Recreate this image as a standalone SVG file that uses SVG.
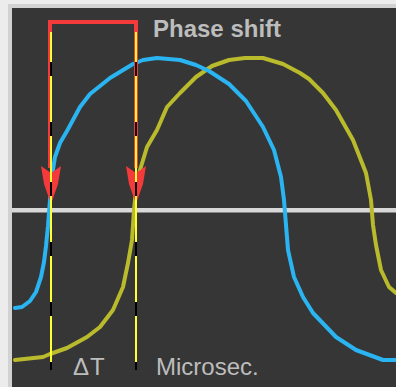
<svg xmlns="http://www.w3.org/2000/svg" width="396" height="387" viewBox="0 0 396 387">
<style>
.curve{fill:none;stroke-width:4;stroke-linejoin:round;stroke-linecap:round}
.blue{stroke:#2bb4f2}
.olive{stroke:#b9bb2c}
.red{stroke:#f43a3a;stroke-width:4;fill:none}
.arrow{fill:#f43a3a}
.base{stroke:#000;stroke-width:2}
.dash{stroke:#ffff33;stroke-width:2;stroke-dasharray:46 14;stroke-dashoffset:16}
.lbl{font-family:"Liberation Sans",Arial,sans-serif;fill:#bdbdbd}
</style>
<rect x="0" y="0" width="396" height="387" fill="#ececec"/>
<rect x="8" y="4" width="388" height="383" fill="#d2d2d2"/>
<rect x="12" y="8" width="384" height="379" fill="#363636"/>
<rect x="12" y="208" width="384" height="4.5" fill="#d8d8d8"/>
<g id="curves">
<polyline class="curve olive" points="15,360 43,357 50,354 67,348 87,337 100,327 113,310 123,287 128,263 132,240 134,210 136,190 140,170 147,147 157,130 167,107 180,93 196,77 212,66 229,60 245,58 263,58 283,64 300,73 309,79 323,93 336,110 353,140 366,173 371,200 373,225 376,245 381,270 389,287 396,293"/>
<polyline class="curve blue" points="15,308 22,307 30,301 36,292 41,277 44,262 46,246 48,226 50,200 52,176 55,157 60,143 67,131 80,107 90,94 110,78 133,64 143,60 157,58 180,60 196,65 209,71 229,84 246,101 263,127 274,150 281,177 284,200 286,225 288,250 294,277 303,297 313,313 336,337 356,350 383,360 396,360"/>
</g>
<g id="connectors">
<polyline class="red" points="50,168 50,22 136,22 136,168"/>
<polygon class="arrow" points="41,166 51,173 61,166 58,184 51,204 44,184"/>
<polygon class="arrow" points="126,166 136,173 146,166 143,184 136,204 129,184"/>
<line class="base" x1="51" y1="32" x2="51" y2="370"/>
<line class="dash" x1="51" y1="32" x2="51" y2="370"/>
<line class="base" x1="136" y1="32" x2="136" y2="370"/>
<line class="dash" x1="136" y1="32" x2="136" y2="370"/>
</g>
<g id="label-phase"><text class="lbl" x="153" y="37" font-size="24" font-weight="bold">Phase shift</text></g>
<g id="label-dt"><text class="lbl" x="73" y="375" font-size="24" letter-spacing="1">ΔT</text></g>
<g id="label-unit"><text class="lbl" x="156" y="375" font-size="24">Microsec.</text></g>
</svg>
